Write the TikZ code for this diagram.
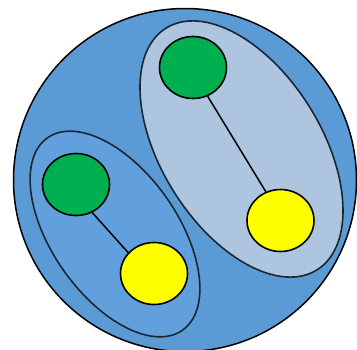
\documentclass[tikz,border=0pt]{standalone}
\usetikzlibrary{shapes.geometric}
\definecolor{setblue}{HTML}{5B9BD5}
\definecolor{leftblue}{HTML}{61A0DC}
\definecolor{rightgrey}{HTML}{ADC5DF}
\definecolor{dotgreen}{HTML}{00B050}
\definecolor{dotyellow}{HTML}{FFFF00}
\definecolor{rimdark}{HTML}{1C2630}
\begin{document}
\begin{tikzpicture}[x=1pt, y=-1pt,
    group/.style={ellipse, draw=rimdark, line width=1.6pt, inner sep=0pt},
    dot/.style={ellipse, draw, line width=1.6pt, minimum width=67pt, minimum height=62pt, inner sep=0pt},
    link/.style={line width=1.5pt}]
    \useasboundingbox (0,0) rectangle (357,349);
    % Outer set
    \node[circle, draw, line width=1.5pt, fill=setblue, minimum size=343pt, inner sep=0pt] (U) at (185,180) {};
    % Two groups
    \node[group, fill=rightgrey, minimum width=285pt, minimum height=160pt, rotate=-58] (B) at (241.5,149) {};
    \node[group, fill=leftblue, minimum width=235pt, minimum height=126pt, rotate=-55] (A) at (115,234) {};
    % Members
    \node[dot, fill=dotgreen] (A1) at (76,184.5) {};
    \node[dot, fill=dotyellow] (A2) at (154,273.5) {};
    \node[dot, fill=dotgreen] (B1) at (193,67.5) {};
    \node[dot, fill=dotyellow] (B2) at (280.5,220.5) {};
    \draw[link] (A1.-60) -- (A2.141);
    \draw[link] (B1.-63) -- (B2.117);
\end{tikzpicture}
\end{document}
